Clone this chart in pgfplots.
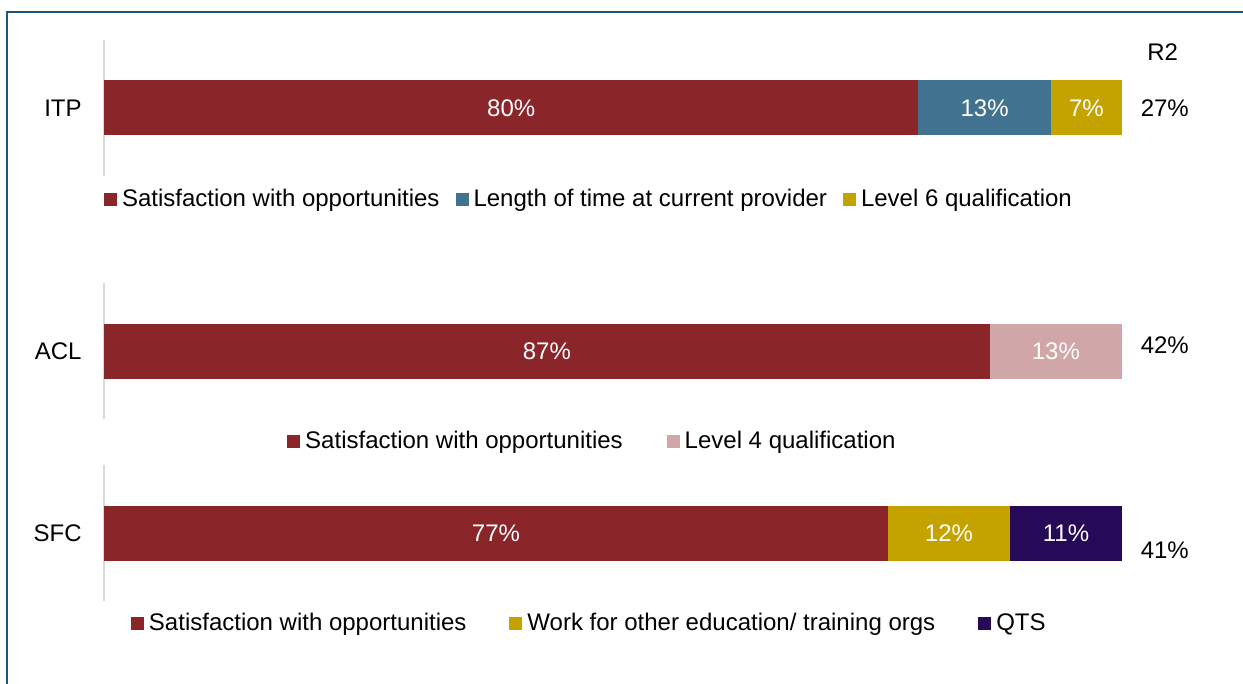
\documentclass[border=0pt]{standalone}
\usepackage{fontspec}
\setmainfont{Liberation Sans}
\usepackage{pgfplots}
\pgfplotsset{compat=1.18}
\definecolor{cRed}{RGB}{138,37,41}
\definecolor{cBlue}{RGB}{65,114,143}
\definecolor{cGold}{RGB}{196,163,0}
\definecolor{cPink}{RGB}{209,166,168}
\definecolor{cPurple}{RGB}{38,10,88}
\definecolor{cBorder}{RGB}{31,85,125}
\definecolor{cGrey}{RGB}{217,217,217}
\pgfplotsset{
 geom/.style={
   scale only axis, width=509pt, height=68pt,
   xmin=0, xmax=100, ymin=-1, ymax=1, clip=false,
 },
 grp/.style={
   geom,
   xbar stacked, bar width=27.5pt,
   hide x axis,
   axis y line*=left,
   axis line style={draw=cGrey, line width=1pt, -},
   ytick={0}, major tick length=0pt,
   yticklabel style={inner sep=0pt, anchor=east, xshift=-11pt},
   legend image code/.code={\fill[##1] (0pt,-3.25pt) rectangle (6.5pt,3.25pt);},
   legend style={draw=none, fill=none, inner sep=0pt, outer sep=0pt, anchor=west,
     nodes={inner sep=0pt},
     /tikz/every odd column/.append style={column sep=2.5pt}},
   legend cell align=left,
 },
 lab/.style={
   geom, hide axis,
 },
 labplot/.style={
   only marks, mark=none, nodes near coords, point meta=explicit symbolic,
   every node near coord/.style={text=white, anchor=center, inner sep=0pt},
 },
}
\begin{document}
\fontsize{12}{14.4}\selectfont
\begin{tikzpicture}
\path[use as bounding box] (0,0) rectangle (621.5pt,-342pt);
\draw[cBorder, line width=1pt] (3.5pt,-343pt) -- (3.5pt,-6pt) -- (622pt,-6pt);

% ITP
\begin{axis}[grp, at={(52pt,-20pt)}, anchor=north west,
  yticklabels={ITP}, legend columns=3,
  legend style={at={(0,-0.172)}, /tikz/every even column/.append style={column sep=8pt}}]
\addplot[fill=cRed, draw=none] coordinates {(80,0)};
\addlegendentry{Satisfaction with opportunities}
\addplot[fill=cBlue, draw=none] coordinates {(13,0)};
\addlegendentry{Length of time at current provider}
\addplot[fill=cGold, draw=none] coordinates {(7,0)};
\addlegendentry{Level 6 qualification}
\end{axis}
\begin{axis}[lab, at={(52pt,-20pt)}, anchor=north west]
\addplot[labplot] coordinates {(40,0) [80\%] (86.5,0) [13\%] (96.5,0) [7\%]};
\node at (axis cs:104,0.82) {R2};
\node at (axis cs:104.2,0) {27\%};
\end{axis}

% ACL
\begin{axis}[grp, at={(52pt,-141.75pt)}, anchor=north west,
  yticklabels={ACL}, legend columns=2,
  legend style={at={(0.18,-0.162)}, /tikz/every even column/.append style={column sep=22pt}}]
\addplot[fill=cRed, draw=none] coordinates {(87,0)};
\addlegendentry{Satisfaction with opportunities}
\addplot[fill=cPink, draw=none] coordinates {(13,0)};
\addlegendentry{Level 4 qualification}
\end{axis}
\begin{axis}[lab, at={(52pt,-141.75pt)}, anchor=north west]
\addplot[labplot] coordinates {(43.5,0) [87\%] (93.5,0) [13\%]};
\node at (axis cs:104.2,0.1) {42\%};
\end{axis}

% SFC
\begin{axis}[grp, at={(52pt,-232.5pt)}, anchor=north west,
  yticklabels={SFC}, legend columns=3,
  legend style={at={(0.0265,-0.168)}, /tikz/every even column/.append style={column sep=21.5pt}}]
\addplot[fill=cRed, draw=none] coordinates {(77,0)};
\addlegendentry{Satisfaction with opportunities}
\addplot[fill=cGold, draw=none] coordinates {(12,0)};
\addlegendentry{Work for other education/ training orgs}
\addplot[fill=cPurple, draw=none] coordinates {(11,0)};
\addlegendentry{QTS}
\end{axis}
\begin{axis}[lab, at={(52pt,-232.5pt)}, anchor=north west]
\addplot[labplot] coordinates {(38.5,0) [77\%] (83,0) [12\%] (94.5,0) [11\%]};
\node at (axis cs:104.2,-0.25) {41\%};
\end{axis}
\end{tikzpicture}
\end{document}
